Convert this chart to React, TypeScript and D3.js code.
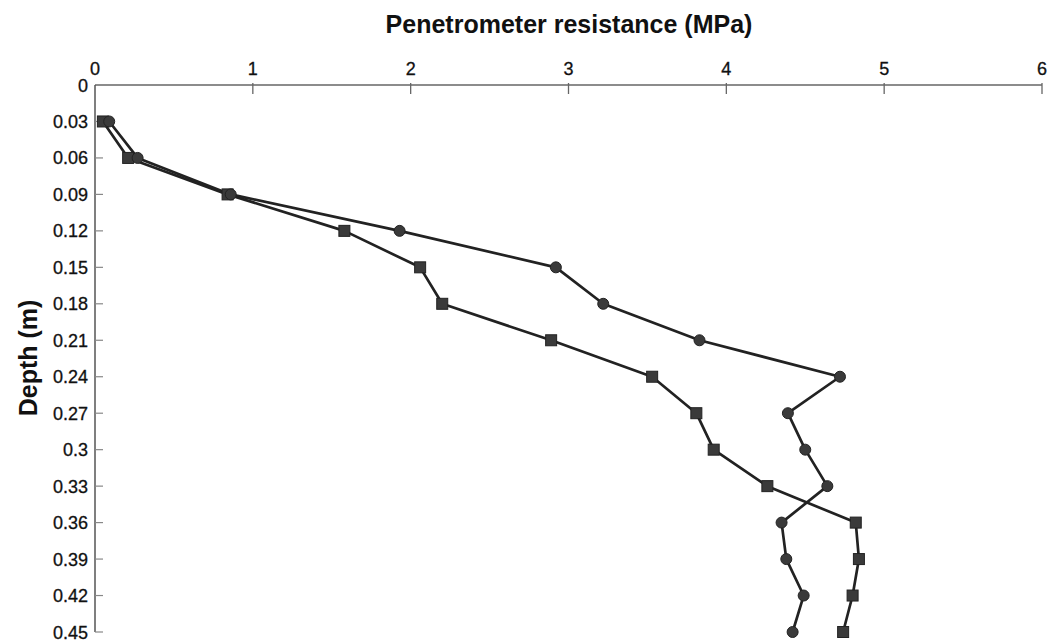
import React from "react";
import * as d3 from "d3";

const depths = [0.03, 0.06, 0.09, 0.12, 0.15, 0.18, 0.21, 0.24, 0.27, 0.3, 0.33, 0.36, 0.39, 0.42, 0.45];
const circleSeries = [0.09, 0.27, 0.86, 1.93, 2.92, 3.22, 3.83, 4.72, 4.39, 4.5, 4.64, 4.35, 4.38, 4.49, 4.42];
const squareSeries = [0.05, 0.21, 0.84, 1.58, 2.06, 2.2, 2.89, 3.53, 3.81, 3.92, 4.26, 4.82, 4.84, 4.8, 4.74];
const xTicks = [0, 1, 2, 3, 4, 5, 6];
const yTicks = [0, 0.03, 0.06, 0.09, 0.12, 0.15, 0.18, 0.21, 0.24, 0.27, 0.3, 0.33, 0.36, 0.39, 0.42, 0.45];

export default function App() {
  const W = 1053, H = 641;
  const x = d3.scaleLinear().domain([0, 6]).range([95, 1042]);
  const y = d3.scaleLinear().domain([0, 0.45]).range([85, 632]);
  const font = "'Liberation Sans', Arial, Helvetica, sans-serif";
  const line = d3.line<[number, number]>().x(d => x(d[0])).y(d => y(d[1]));
  const cPts = circleSeries.map((v, i) => [v, depths[i]] as [number, number]);
  const sPts = squareSeries.map((v, i) => [v, depths[i]] as [number, number]);
  const ink = "#222";
  const fill = "#3a3a3a";
  return (
    <svg width={W} height={H} style={{ position: "absolute", left: 0, top: 0, background: "#fff" }} fontFamily={font}>
      <text x={569} y={33} textAnchor="middle" fontWeight="bold" fontSize={25} fill="#111">Penetrometer resistance (MPa)</text>
      <text transform={`translate(37,358) rotate(-90)`} textAnchor="middle" fontWeight="bold" fontSize={25} fill="#111">Depth (m)</text>
      {/* top axis */}
      <line x1={x(0)} x2={x(6)} y1={y(0)} y2={y(0)} stroke="#666" strokeWidth={1.3} />
      {xTicks.map(t => (
        <g key={"xt" + t}>
          {t > 0 && <line x1={x(t)} x2={x(t)} y1={y(0) - 2} y2={y(0) + 9} stroke="#666" strokeWidth={1.3} />}
          <text x={x(t)} y={75} textAnchor="middle" fontSize={18} fill="#111" stroke="#111" strokeWidth={0.3}>{t}</text>
        </g>
      ))}
      {/* left axis */}
      <line x1={x(0)} x2={x(0)} y1={y(0)} y2={y(0.45)} stroke="#555" strokeWidth={1.5} />
      {yTicks.map(t => (
        <g key={"yt" + t}>
          {t > 0 && <line x1={x(0)} x2={x(0) + 8} y1={y(t)} y2={y(t)} stroke="#888" strokeWidth={1.2} />}
          <text x={88} y={y(t) + 6.5} textAnchor="end" fontSize={18} fill="#111" stroke="#111" strokeWidth={0.3}>{String(t)}</text>
        </g>
      ))}
      <path d={line(sPts) || ""} fill="none" stroke={ink} strokeWidth={2.7} strokeLinejoin="round" />
      <path d={line(cPts) || ""} fill="none" stroke={ink} strokeWidth={2.7} strokeLinejoin="round" />
      {sPts.map((p, i) => (
        <rect key={"s" + i} x={x(p[0]) - 5.5} y={y(p[1]) - 5.5} width={11} height={11} fill={fill} stroke={ink} strokeWidth={1} />
      ))}
      {cPts.map((p, i) => (
        <circle key={"c" + i} cx={x(p[0])} cy={y(p[1])} r={5.5} fill={fill} stroke={ink} strokeWidth={1} />
      ))}
    </svg>
  );
}
